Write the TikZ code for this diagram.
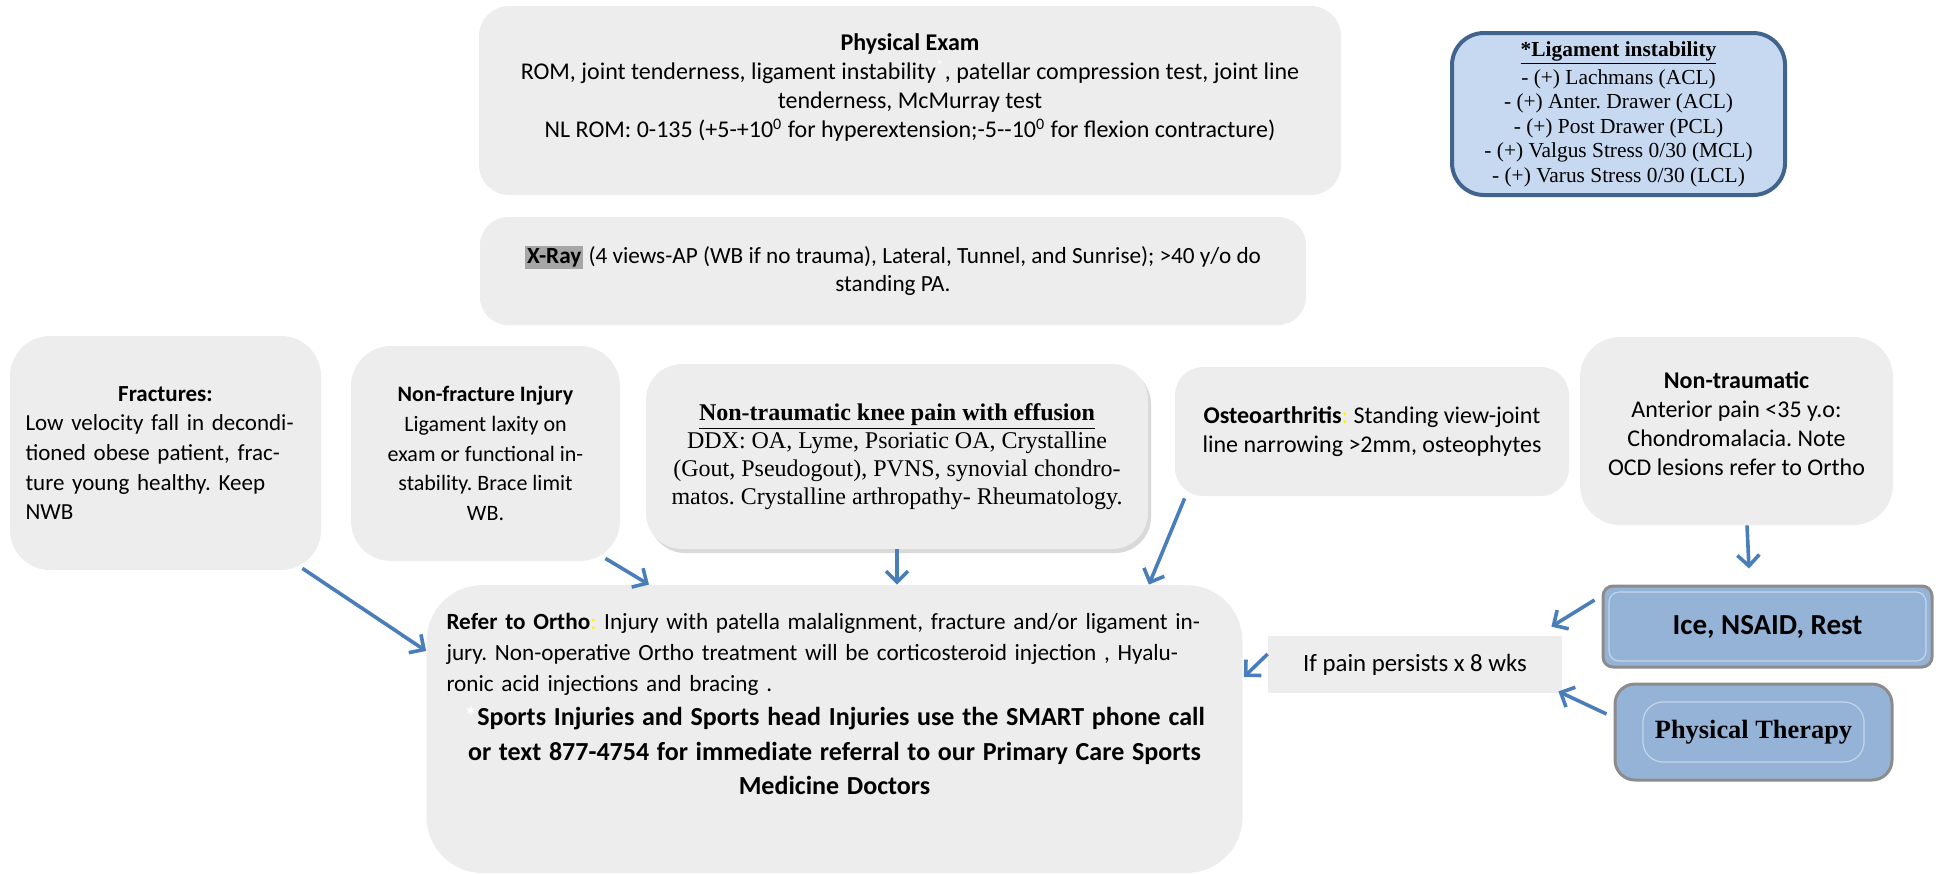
\documentclass[tikz,border=0pt]{standalone}
\usepackage{fontspec}
\setmainfont{Carlito}
\newfontfamily\timesfont{Liberation Serif}
\usepackage{xcolor}
\usetikzlibrary{shadows,arrows.meta}

\definecolor{boxgray}{HTML}{EDEDED}
\definecolor{arrowblue}{HTML}{4A7EBB}
\definecolor{ligfill}{HTML}{C6D9F1}
\definecolor{ligline}{HTML}{41648F}
\definecolor{medblue}{HTML}{95B3D7}
\definecolor{framegray}{HTML}{8C8C8C}
\definecolor{xrayhl}{HTML}{A6A6A6}

\frenchspacing

\begin{document}
\begin{tikzpicture}[x=0.5pt, y=-0.5pt,
  box/.style={fill=boxgray, rounded corners=#1, inner sep=4pt, align=center,
    font=\fontsize{12}{14.5}\selectfont},
  box/.default=15pt,
  bluebox/.style={fill=medblue, draw=framegray, line width=1.5pt, inner sep=4pt},
  flow/.style={draw=arrowblue, line width=1.8pt, -{Straight Barb[length=5.5pt,width=11pt]}}]

  \useasboundingbox (0,0) rectangle (1936,874);

  % exam and x-ray
  \node[box, minimum width=431pt, minimum height=94.5pt] (exam) at (910,100.5)
    {\textbf{Physical Exam}\\
     ROM, joint tenderness, ligament instability\textsuperscript{\textcolor{white}{*}}, patellar compression test, joint line\\
     tenderness, McMurray test\\
     NL ROM: 0-135 (+5-+10\textsuperscript{0} for hyperextension;-5-{}-10\textsuperscript{0} for flexion contracture)\\
     \mbox{}};
  \node[draw=ligline, line width=2pt, fill=ligfill, rounded corners=16pt, align=center,
    minimum width=166.5pt, minimum height=81pt, inner sep=2pt,
    font=\timesfont\fontsize{10.7}{12.2}\selectfont] (lig) at (1618.5,114)
    {\textbf{\underline{*Ligament instability}}\\[2pt]
     - (+) Lachmans (ACL)\\
     - (+) Anter. Drawer (ACL)\\
     - (+) Post Drawer (PCL)\\
     - (+) Valgus Stress 0/30 (MCL)\\
     - (+) Varus Stress 0/30 (LCL)};
  \node[box=14pt, minimum width=413pt, minimum height=54pt,
    font=\fontsize{11.6}{14}\selectfont] (xray) at (893,271)
    {{\fboxsep=1pt\colorbox{xrayhl}{\textbf{X-Ray}}} (4 views-AP (WB if no trauma), Lateral, Tunnel, and Sunrise); >40 y/o do\\
     standing PA.};

  % middle row
  \node[box=20pt, minimum width=155.5pt, minimum height=117pt, text width=140pt, align=left,
    font=\fontsize{11.5}{14.8}\selectfont] (frac) at (165.5,453)
    {\hspace*{\fill}\textbf{Fractures:}\hspace*{\fill}\mbox{}\\
     Low velocity fall in decondi-\\
     tioned obese patient, frac-\\
     ture young healthy. Keep\\
     NWB};
  \node[box=20pt, minimum width=134.5pt, minimum height=107.5pt,
    font=\fontsize{11}{14.8}\selectfont] (nonfrac) at (485.5,453.5)
    {\textbf{Non-fracture Injury}\\
     Ligament laxity on\\
     exam or functional in-\\
     stability. Brace limit\\
     WB.};
  \node[box=18pt, minimum width=251pt, minimum height=92.5pt,
    font=\timesfont\fontsize{12}{14}\selectfont,
    drop shadow={shadow xshift=1.5pt, shadow yshift=-2pt, opacity=0.3}] (effus) at (897,456.5)
    {\textbf{\underline{Non-traumatic knee pain with effusion}}\\
     DDX: OA, Lyme, Psoriatic OA, Crystalline\\
     (Gout, Pseudogout), PVNS, synovial chondro-\\
     matos. Crystalline arthropathy- Rheumatology.};
  \node[box=14pt, minimum width=197pt, minimum height=64.5pt] (osteo) at (1372,431.5)
    {\textbf{Osteoarthritis}\textcolor{yellow}{:} Standing view-joint\\
     line narrowing >2mm, osteophytes};
  \node[box=20pt, minimum width=156.5pt, minimum height=94pt,
    font=\fontsize{12}{14.6}\selectfont] (nontrau) at (1736.5,431)
    {\textbf{Non-traumatic}\\
     Anterior pain <35 y.o:\\
     Chondromalacia. Note\\
     OCD lesions refer to Ortho\\[-7pt]
     \mbox{}};

  % bottom row
  \node[box=28pt, minimum width=407.5pt, minimum height=144pt, inner sep=10pt,
    text width=388pt, align=left, font=\fontsize{11.6}{15.4}\selectfont] (ortho) at (834.5,729)
    {\textbf{Refer to Ortho}\textcolor{yellow}{:} Injury with patella malalignment, fracture and/or ligament in-\\
     jury. Non-operative Ortho treatment will be corticosteroid injection , Hyalu-\\
     ronic acid injections and bracing .\par
     \centering\bfseries\fontsize{13}{17.2}\selectfont
     \textcolor{white}{*}Sports Injuries and Sports head Injuries use the SMART phone call\\
     or text 877-4754 for immediate referral to our Primary Care Sports\\
     Medicine Doctors\\
     \rule{0pt}{24pt}};
  \node[fill=boxgray, minimum width=147pt, minimum height=28.5pt,
    font=\fontsize{12.4}{14}\selectfont] (persist) at (1415,664.5)
    {If pain persists x 8 wks};
  \node[bluebox, rounded corners=5pt, minimum width=164.5pt, minimum height=40.5pt,
    font=\bfseries\fontsize{14.5}{16}\selectfont,
    path picture={\draw[white!45!medblue, line width=0.6pt]
      ([shift={(3pt,-3pt)}]path picture bounding box.north west) rectangle
      ([shift={(-3pt,3pt)}]path picture bounding box.south east);}] (ice) at (1767.5,626.5)
    {Ice, NSAID, Rest};
  \node[bluebox, rounded corners=10pt, minimum width=138.5pt, minimum height=48pt,
    font=\timesfont\bfseries\fontsize{13.2}{15}\selectfont,
    path picture={\draw[white!45!medblue, line width=0.6pt]
      ([shift={(14pt,-9pt)}]path picture bounding box.north west) rectangle
      ([shift={(-14pt,9pt)}]path picture bounding box.south east);}] (pt) at (1753.5,732)
    {Physical Therapy};

  % connectors
  \draw[flow] ([xshift=-9.5pt,yshift=1pt]frac.south east) -- ([yshift=39pt]ortho.west);
  \draw[flow] ([xshift=-7.5pt,yshift=1.5pt]nonfrac.south east) -- ([xshift=-92.75pt]ortho.north);
  \draw[flow] (effus.south) -- (effus.south |- ortho.north);
  \draw[flow] ([xshift=5pt,yshift=-1pt]osteo.south west) -- ([xshift=-47pt]ortho.north east);
  \draw[flow] ([xshift=5.25pt]nontrau.south) -- ([xshift=-9.25pt,yshift=8pt]ice.north);
  \draw[flow] ([xshift=-3.5pt,yshift=13.25pt]ice.west) -- ([xshift=-5.5pt,yshift=4.5pt]persist.north east);
  \draw[flow] ([xshift=-3.5pt,yshift=9pt]pt.west) -- ([xshift=-2pt,yshift=1pt]persist.south east);
  \draw[flow] ([yshift=5.25pt]persist.west) -- ([xshift=0.5pt,yshift=26pt]ortho.east);
\end{tikzpicture}
\end{document}
